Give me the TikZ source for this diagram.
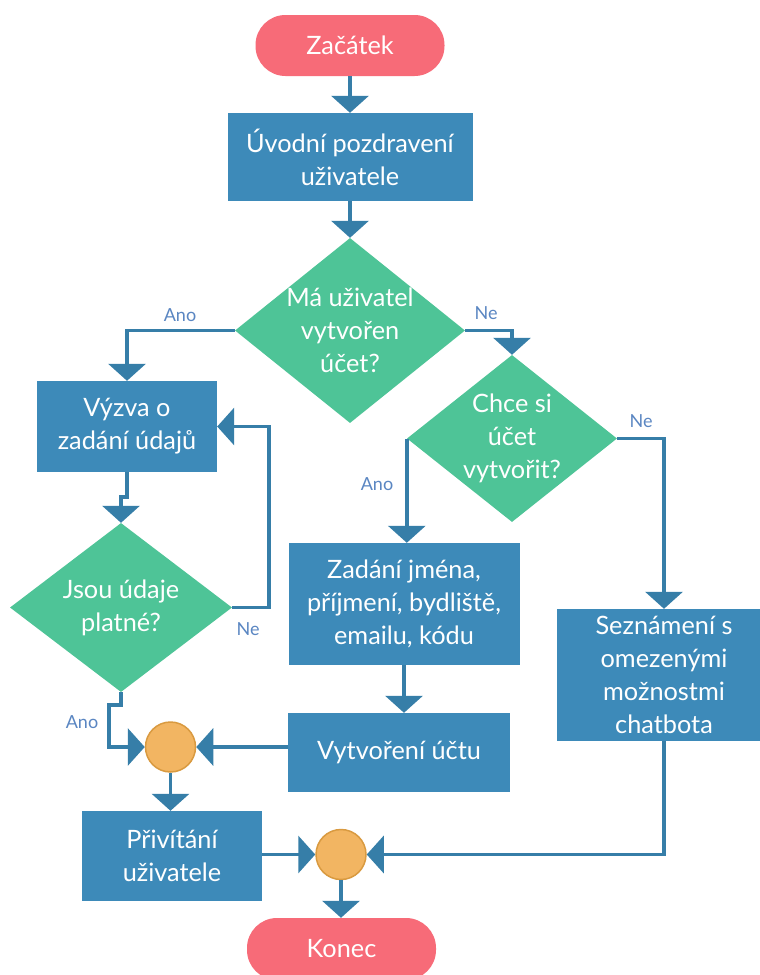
\documentclass[tikz,border=0pt]{standalone}
\usepackage{fontspec}
\setmainfont{Lato}
\usetikzlibrary{arrows.meta,shapes.geometric,calc}
\definecolor{pillc}{HTML}{F76B78}
\definecolor{boxc}{HTML}{3D8AB9}
\definecolor{diac}{HTML}{4EC497}
\definecolor{circf}{HTML}{F2B562}
\definecolor{circd}{HTML}{D99A40}
\definecolor{linec}{HTML}{367EA8}
\definecolor{labc}{HTML}{5A86C2}
\begin{document}
\begin{tikzpicture}[x=1pt,y=-1pt,
  txt/.style={font=\fontsize{25.3}{33}\selectfont, text=white, align=center},
  pill/.style={txt, rectangle, rounded corners=30pt, fill=pillc, inner sep=0pt},
  box/.style={txt, rectangle, fill=boxc, inner sep=0pt},
  dia/.style={txt, diamond, fill=diac, inner sep=-30pt},
  junc/.style={circle, fill=circf, draw=circd, line width=1.5pt, minimum size=50pt, inner sep=0pt},
  arr/.style={draw=linec, line width=3.5pt, -{Triangle[width=37pt,length=17pt]}},
  lab/.style={font=\fontsize{18}{21}\selectfont, text=labc}
]
\useasboundingbox (0,0) rectangle (760,975);
\fill[white] (0,0) rectangle (760,975);
\clip (0,0) rectangle (760,975);

\node[pill, minimum width=189pt, minimum height=61pt] (start) at (350,45.5) {Začátek};
\node[box, minimum width=245pt, minimum height=88pt] (greet) at (350,157) {Úvodní pozdravení\\uživatele};
\node[dia, minimum width=230pt, minimum height=185pt] (d1) at (350,330.5) {Má uživatel\\vytvořen\\účet?};
\node[box, minimum width=180pt, minimum height=91pt] (vyzva) at (127,426.5) {Výzva o\\zadání údajů};
\node[dia, minimum width=210pt, minimum height=167pt] (d2) at (512,438.5) {Chce si\\účet\\vytvořit?};
\node[box, minimum width=231pt, minimum height=122pt] (zad) at (404,604) {Zadání jména,\\příjmení, bydliště,\\emailu, kódu};
\node[box, minimum width=214pt, minimum height=132pt] (sez) at (664,675) {Seznámení s\\omezenými\\možnostmi\\chatbota};
\node[box, minimum width=222pt, minimum height=79pt] (vyt) at (399,752.5) {Vytvoření účtu};
\node[dia, minimum width=222pt, minimum height=169pt] (d3) at (121,607.5) {Jsou údaje\\platné?};
\node[junc] (c1) at (170.5,747) {};
\node[box, minimum width=180pt, minimum height=90pt] (piv) at (172,856) {Přivítání\\uživatele};
\node[junc] (c2) at (341,854.5) {};
\node[pill, minimum width=189pt, minimum height=62pt] (kon) at (341.5,949) {Konec};

\draw[arr] (start.south) -- (start.south |- greet.north);
\draw[arr] (greet.south) -- (greet.south |- d1.north);
\draw[arr] (d1.west) -| (vyzva.north);
\node[lab] (l1) at (180,315) {Ano};
\draw[arr] (d1.east) -| (d2.north);
\node[lab] (l2) at (486,313) {Ne};
\draw[arr] (d2.west) -- (d2.west |- zad.north);
\node[lab] (l3) at (377,484) {Ano};
\draw[arr] (d2.east) -| (sez.north);
\node[lab] (l4) at (641,421) {Ne};
\draw[arr] (vyzva.south) -- ++(0,25) -| (d3.north);
\draw[arr] (d3.east) -- ++(37,0) |- (vyzva.east);
\node[lab] (l5) at (248,629) {Ne};
\draw[arr] (d3.south) -- ++(0,13) -- ++(-12,0) |- (c1.west);
\node[lab] (l6) at (82,722) {Ano};
\draw[arr] (zad.south) -- (zad.south |- vyt.north);
\draw[arr] (vyt.west |- c1) -- (c1.east);
\draw[arr] (c1.south) -- (c1.south |- piv.north);
\draw[arr] (piv.east |- c2) -- (c2.west);
\draw[arr] (sez.south) |- (c2.east);
\draw[arr] (c2.south) -- (c2.south |- kon.north);
\end{tikzpicture}
\end{document}
